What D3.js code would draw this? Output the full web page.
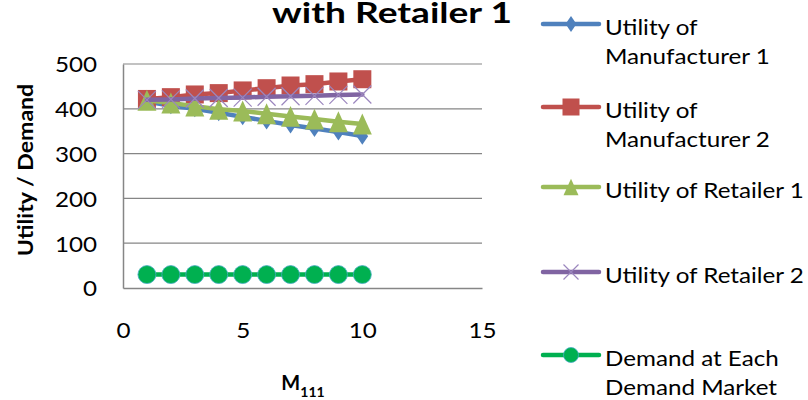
<!DOCTYPE html>
<html>
<head>
<meta charset="utf-8">
<script src="https://cdn.jsdelivr.net/npm/d3@7"></script>
<style>
  html, body { margin: 0; padding: 0; background: #fff; }
  svg { display: block; }
  text { font-family: Lato, "Open Sans", sans-serif; fill: #000; }
</style>
</head>
<body>
<svg id="chart" width="808" height="400"></svg>
<script>
// M111 values on the horizontal axis
const m111 = [1, 2, 3, 4, 5, 6, 7, 8, 9, 10];

// Series values
const utilManufacturer1 = [416, 407, 400, 391, 382, 373, 364, 356, 348, 339];
const utilManufacturer2 = [422, 426, 432, 435, 441, 446, 452, 455, 461, 466];
const utilRetailer1     = [419, 413, 406, 399, 395, 389, 383, 377, 371, 366];
const utilRetailer2     = [420, 421, 423, 424, 425, 427, 428, 429, 431, 432];
const demandMarket      = [30, 30, 30, 30, 30, 30, 30, 30, 30, 30];

// Axis ticks
const xTicks = [0, 5, 10, 15];
const yTicks = [0, 100, 200, 300, 400, 500];

const series = [
  { name: ["Utility of", "Manufacturer 1"], values: utilManufacturer1, color: "#4F81BD", marker: "diamond" },
  { name: ["Utility of", "Manufacturer 2"], values: utilManufacturer2, color: "#C0504D", marker: "square" },
  { name: ["Utility of Retailer 1"],        values: utilRetailer1,     color: "#9BBB59", marker: "triangle" },
  { name: ["Utility of Retailer 2"],        values: utilRetailer2,     color: "#8064A2", marker: "x" },
  { name: ["Demand at Each", "Demand Market"], values: demandMarket,   color: "#00B050", marker: "circle" }
];

// Text is drawn slightly widened, like the stretched Calibri of the original sheet
const SX = 1.1;

const svg = d3.select("#chart");

const x = d3.scaleLinear().domain([0, 15]).range([123, 482]);
const y = d3.scaleLinear().domain([0, 500]).range([288, 64]);

// Horizontal gridlines
svg.append("g")
  .selectAll("line")
  .data(yTicks.filter(d => d > 0))
  .join("line")
  .attr("x1", x(0)).attr("x2", x(15))
  .attr("y1", d => y(d)).attr("y2", d => y(d))
  .attr("stroke", "#868686").attr("stroke-width", 1.2);

// Axes (no tick marks, labels only)
const xAxis = svg.append("g")
  .attr("transform", `translate(0,${y(0)})`)
  .call(d3.axisBottom(x).tickValues(xTicks).tickSize(0).tickPadding(42));
const yAxis = svg.append("g")
  .attr("transform", `translate(${x(0)},0)`)
  .call(d3.axisLeft(y).tickValues(yTicks).tickSize(0).tickPadding(26));
[xAxis, yAxis].forEach(g => {
  g.select(".domain").attr("stroke", "#868686").attr("stroke-width", 1.5);
  g.selectAll("text")
    .attr("font-size", 22).attr("font-family", "Lato").attr("fill", "#000")
    .attr("dy", "0.36em");
});
yAxis.selectAll("text")
  .attr("x", -26 / SX)
  .attr("transform", `scale(${SX},1)`);
xAxis.selectAll("text")
  .attr("transform", `scale(${SX},1)`);

// Marker shapes
function drawMarker(g, type, color, cx, cy, s) {
  if (type === "diamond") {
    const w = s * 0.34, h = s * 0.5;
    g.append("path")
      .attr("d", `M${cx},${cy - h}L${cx + w},${cy}L${cx},${cy + h}L${cx - w},${cy}Z`)
      .attr("fill", color);
  } else if (type === "square") {
    g.append("rect")
      .attr("x", cx - s / 2).attr("y", cy - s / 2)
      .attr("width", s).attr("height", s)
      .attr("fill", color);
  } else if (type === "triangle") {
    const h = s * 0.55, w = s * 0.5;
    g.append("path")
      .attr("d", `M${cx},${cy - h}L${cx + w},${cy + h}L${cx - w},${cy + h}Z`)
      .attr("fill", color);
  } else if (type === "x") {
    const h = s / 2;
    g.append("path")
      .attr("d", `M${cx - h},${cy - h}L${cx + h},${cy + h}M${cx - h},${cy + h}L${cx + h},${cy - h}`)
      .attr("stroke", "#9B86BE").attr("stroke-width", 1.2).attr("fill", "none");
  } else if (type === "circle") {
    g.append("circle")
      .attr("cx", cx).attr("cy", cy).attr("r", s / 2)
      .attr("fill", color).attr("stroke", "#4BACC6").attr("stroke-width", 0.8);
  }
}

const line = d3.line().x((d, i) => x(m111[i])).y(d => y(d));

const markerSize = { diamond: 17, square: 18, triangle: 19, x: 18, circle: 18 };

series.forEach(s => {
  const g = svg.append("g");
  g.append("path")
    .datum(s.values)
    .attr("d", line)
    .attr("fill", "none")
    .attr("stroke", s.color)
    .attr("stroke-width", 4.5)
    .attr("stroke-linejoin", "round")
    .attr("stroke-linecap", "round");
  s.values.forEach((v, i) => drawMarker(g, s.marker, s.color, x(m111[i]), y(v), markerSize[s.marker]));
});

// Legend
const legendY = [24, 107, 187, 272, 355];
const legendMarkerSize = { diamond: 16, square: 17, triangle: 15, x: 15, circle: 15 };
series.forEach((s, k) => {
  const g = svg.append("g");
  const cy = legendY[k];
  g.append("line")
    .attr("x1", 543).attr("x2", 599)
    .attr("y1", cy).attr("y2", cy)
    .attr("stroke", s.color).attr("stroke-width", 4.5).attr("stroke-linecap", "round");
  drawMarker(g, s.marker, s.color, 571, cy, legendMarkerSize[s.marker]);
  s.name.forEach((t, j) => {
    g.append("text")
      .attr("transform", `translate(605,${cy + 11 + j * 29}) scale(${SX},1)`)
      .attr("font-size", 22)
      .text(t);
  });
});

// Chart title (second line of the heading)
svg.append("text")
  .attr("transform", `translate(392,23) scale(1.28,1)`)
  .attr("text-anchor", "middle")
  .attr("font-size", 29).attr("font-weight", "bold")
  .text("with Retailer 1");

// Axis titles
svg.append("text")
  .attr("transform", `translate(33,170) rotate(-90) scale(${SX},1)`)
  .attr("text-anchor", "middle")
  .attr("font-size", 21).attr("font-weight", "bold")
  .text("Utility / Demand");

const xt = svg.append("text")
  .attr("transform", "translate(303,390)")
  .attr("text-anchor", "middle")
  .attr("font-size", 20).attr("font-weight", "bold");
xt.append("tspan").text("M");
xt.append("tspan").attr("font-size", 14).attr("dy", 7).text("111");
</script>
</body>
</html>
